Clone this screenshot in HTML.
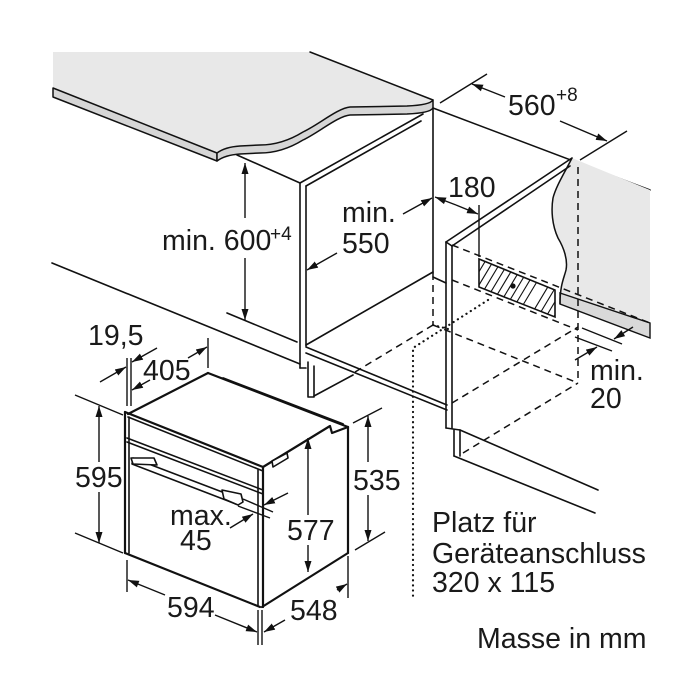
<!DOCTYPE html>
<html><head><meta charset="utf-8"><style>
html,body{margin:0;padding:0;background:#fff;}
svg{display:block;}
text{font-family:"Liberation Sans",Arial,sans-serif;fill:#1a1a1a;}
</style></head><body>
<svg width="700" height="700" viewBox="0 0 700 700" xmlns="http://www.w3.org/2000/svg">
<defs>
<marker id="ah" markerUnits="userSpaceOnUse" markerWidth="12" markerHeight="8" refX="11" refY="4" orient="auto">
<path d="M0,0.5 L11,4 L0,7.5 z" fill="#111"/>
</marker>
<clipPath id="hc"><polygon points="479,259 555,290 555,317 479,287"/></clipPath>
</defs>
<rect width="700" height="700" fill="#fff"/>

<!-- Countertop -->
<path d="M53,52 L310,52 L433,100 Q430,105 407,106 L350,107 C338,108 318,125 303,132 C290,140 275,145 260,145 L240,146 Q225,147 217,153 L53,88 Z" fill="#e8e8e8"/>
<path d="M53,88 L217,153 L217,161 L53,97 Z" fill="#d6d6d6" stroke="#111" stroke-width="1.5" stroke-linejoin="round"/>
<path d="M217,153 Q225,147 240,146 L260,145 C275,145 290,140 303,132 C318,125 338,108 350,107 L407,106 Q430,105 433,100 L433,108 Q430,113 407,114 L350,115 C338,116 318,133 303,140 C290,148 275,153 260,153 L240,154 Q225,155 217,161 Z" fill="#d6d6d6" stroke="#111" stroke-width="1.5" stroke-linejoin="round"/>
<g stroke="#111" stroke-width="1.5" fill="none" stroke-linecap="round">
<line x1="310" y1="52" x2="433" y2="100"/>
<line x1="433" y1="108" x2="650" y2="190"/>
</g>

<!-- Right back wall gray area -->
<path d="M572,158 L650,190 L650,323 L560,293 C560,285 564,278 566,270 C568,260 564,248 558,238 C552,225 551,210 553,198 C556,186 565,172 572,158 Z" fill="#e8e8e8"/>
<path d="M560,293 L650,323 L650,338 L560,304 Z" fill="#d9d9d9" stroke="#111" stroke-width="1.4"/>
<path d="M572,158 C565,172 556,186 553,198 C551,210 552,225 558,238 C564,248 568,260 566,270 C564,278 560,285 560,304" fill="none" stroke="#111" stroke-width="1.5"/>

<g stroke="#111" stroke-width="1.6" fill="none" stroke-linecap="round" stroke-linejoin="round">
<!-- floor lines left -->
<line x1="52" y1="263" x2="300" y2="364"/>
<line x1="227" y1="313" x2="297" y2="342"/>
<!-- Left cabinet -->
<line x1="237" y1="155" x2="300" y2="183"/>
<line x1="300" y1="183" x2="423" y2="114"/>
<line x1="306" y1="186" x2="421" y2="121"/>
<line x1="300" y1="183" x2="300" y2="368"/>
<line x1="306" y1="186" x2="306" y2="346"/>
<line x1="433" y1="108" x2="433" y2="273"/>
<line x1="306" y1="345" x2="433" y2="272"/>
<line x1="306" y1="347" x2="447" y2="405"/>
<line x1="306" y1="353" x2="447" y2="410"/>
<line x1="433" y1="277" x2="446" y2="283"/>
<polyline points="308,362 308,397 314,397 314,366"/>
<line x1="314" y1="396" x2="353" y2="375"/>
<line x1="300" y1="368" x2="306" y2="368"/>
<!-- Right cabinet -->
<line x1="446" y1="242" x2="572" y2="158"/>
<line x1="452" y1="246" x2="570" y2="166"/>
<line x1="446" y1="242" x2="452" y2="246"/>
<line x1="446" y1="242" x2="446" y2="428"/>
<line x1="452" y1="246" x2="452" y2="428"/>
<line x1="446" y1="428" x2="460" y2="430"/>
<line x1="454" y1="430" x2="454" y2="456"/>
<line x1="460" y1="430" x2="460" y2="456"/>
<line x1="460" y1="430" x2="598" y2="490"/>
<line x1="454" y1="456" x2="595" y2="513"/>
<!-- Oven -->
<line x1="125" y1="412" x2="263" y2="467" stroke-width="2.2"/>
<line x1="128" y1="417" x2="263" y2="471"/>
<line x1="127" y1="438" x2="263" y2="490"/>
<line x1="127" y1="442" x2="263" y2="494"/>
<line x1="125" y1="412" x2="125" y2="553" stroke-width="2.2"/>
<line x1="129" y1="417" x2="129" y2="553"/>
<line x1="125" y1="553" x2="260" y2="607" stroke-width="2.2"/>
<line x1="258" y1="470" x2="258" y2="605"/>
<line x1="263" y1="467" x2="263" y2="607" stroke-width="2.2"/>
<line x1="128" y1="414" x2="208" y2="373" stroke-width="2.2"/>
<line x1="208" y1="373" x2="348" y2="427" stroke-width="2.2"/>
<line x1="223" y1="378" x2="343" y2="424" stroke-width="1.8"/>
<polyline points="263,467 330,426 332,433 348,427" stroke-width="2.2"/>
<line x1="348" y1="427" x2="348" y2="553" stroke-width="2.2"/>
<line x1="262" y1="607" x2="348" y2="553" stroke-width="2.2"/>
<polygon points="272,461 287,453 288,458 273,467" fill="#fff"/>
<!-- handle -->
<polygon points="133,458 238,498 236,504 132,464" fill="#fff"/>
<polygon points="131,458 154,458 157,465 133,464" fill="#fff"/>
<polygon points="222,490 241,494 243,502 238,505 224,499" fill="#fff"/>
</g>

<!-- Dashed / dotted lines -->
<g stroke="#111" stroke-width="1.5" fill="none" stroke-dasharray="7,5">
<line x1="433" y1="273" x2="433" y2="325"/>
<line x1="433" y1="325" x2="355" y2="372"/>
<line x1="452" y1="245" x2="650" y2="323"/>
<line x1="452" y1="280" x2="578" y2="330"/>
<line x1="433" y1="325" x2="578" y2="383"/>
<line x1="452" y1="403" x2="578" y2="327"/>
<line x1="463" y1="453" x2="578" y2="383"/>
<line x1="578" y1="167" x2="578" y2="383"/>
</g>
<g stroke="#111" stroke-width="2.2" fill="none" stroke-dasharray="0.1,5" stroke-linecap="round">
<polyline points="488,300 413,348 413,598"/>
<line x1="433" y1="325" x2="452" y2="330"/>
</g>

<!-- Hatched box -->
<g clip-path="url(#hc)" stroke="#111" stroke-width="1.1">
<line x1="470" y1="300" x2="500" y2="250"/><line x1="478" y1="300" x2="508" y2="250"/>
<line x1="486" y1="300" x2="516" y2="250"/><line x1="494" y1="300" x2="524" y2="250"/>
<line x1="496" y1="310" x2="532" y2="250"/><line x1="504" y1="310" x2="540" y2="250"/>
<line x1="512" y1="310" x2="548" y2="250"/><line x1="520" y1="310" x2="556" y2="250"/>
<line x1="528" y1="320" x2="570" y2="250"/><line x1="536" y1="320" x2="578" y2="250"/>
<line x1="544" y1="320" x2="586" y2="250"/><line x1="552" y1="320" x2="594" y2="250"/>
<line x1="462" y1="300" x2="492" y2="250"/>
</g>
<polygon points="479,259 555,290 555,317 479,287" fill="none" stroke="#111" stroke-width="1.6"/>
<circle cx="513" cy="286" r="2.6" fill="#111"/>

<!-- Dimension lines -->
<g stroke="#111" stroke-width="1.4" fill="none">
<!-- 560 -->
<line x1="440" y1="103" x2="487" y2="74"/>
<line x1="580" y1="160" x2="627" y2="131"/>
<line x1="505" y1="97" x2="472" y2="84" marker-end="url(#ah)"/>
<line x1="560" y1="121" x2="607" y2="141" marker-end="url(#ah)"/>
<!-- 180 -->
<line x1="479" y1="205" x2="479" y2="257"/>
<line x1="456" y1="205" x2="435" y2="197" marker-end="url(#ah)"/>
<line x1="456" y1="205" x2="478" y2="214" marker-end="url(#ah)"/>
<!-- 550 -->
<line x1="403" y1="214" x2="432" y2="198" marker-end="url(#ah)"/>
<line x1="337" y1="253" x2="307" y2="270" marker-end="url(#ah)"/>
<!-- 600 -->
<line x1="245" y1="218" x2="245" y2="163" marker-end="url(#ah)"/>
<line x1="245" y1="258" x2="245" y2="320" marker-end="url(#ah)"/>
<!-- min 20 -->
<line x1="582" y1="328" x2="622" y2="344"/>
<line x1="575" y1="337" x2="612" y2="351"/>
<line x1="633" y1="327" x2="614" y2="339" marker-end="url(#ah)"/>
<line x1="575" y1="360" x2="597" y2="347" marker-end="url(#ah)"/>
<!-- 595 -->
<line x1="75" y1="395" x2="123" y2="415"/>
<line x1="75" y1="533" x2="123" y2="553"/>
<line x1="99" y1="462" x2="99" y2="406" marker-end="url(#ah)"/>
<line x1="99" y1="492" x2="99" y2="543" marker-end="url(#ah)"/>
<!-- 19,5 / 405 -->
<line x1="127" y1="358" x2="127" y2="406"/>
<line x1="131" y1="358" x2="131" y2="406"/>
<line x1="208" y1="338" x2="208" y2="368"/>
<line x1="100" y1="382" x2="126" y2="367" marker-end="url(#ah)"/>
<line x1="157" y1="348" x2="132" y2="362" marker-end="url(#ah)"/>
<line x1="150" y1="380" x2="132" y2="390" marker-end="url(#ah)"/>
<line x1="188" y1="358" x2="207" y2="347" marker-end="url(#ah)"/>
<!-- 577 -->
<line x1="308" y1="515" x2="308" y2="438" marker-end="url(#ah)"/>
<line x1="308" y1="545" x2="308" y2="572" marker-end="url(#ah)"/>
<!-- 535 -->
<line x1="353" y1="423" x2="382" y2="408"/>
<line x1="355" y1="550" x2="385" y2="532"/>
<line x1="368" y1="462" x2="368" y2="416" marker-end="url(#ah)"/>
<line x1="368" y1="495" x2="368" y2="541" marker-end="url(#ah)"/>
<!-- 594 / 548 -->
<line x1="127" y1="560" x2="127" y2="592"/>
<line x1="258" y1="610" x2="258" y2="645"/>
<line x1="262" y1="610" x2="262" y2="645"/>
<line x1="348" y1="556" x2="348" y2="598"/>
<line x1="165" y1="595" x2="128" y2="580" marker-end="url(#ah)"/>
<line x1="215" y1="615" x2="257" y2="632" marker-end="url(#ah)"/>
<line x1="285" y1="620" x2="264" y2="632" marker-end="url(#ah)"/>
<line x1="337" y1="590" x2="347" y2="584" marker-end="url(#ah)"/>
<!-- max 45 -->
<line x1="243" y1="499" x2="273" y2="512"/>
<line x1="238" y1="506" x2="270" y2="518"/>
<line x1="230" y1="528" x2="253" y2="514" marker-end="url(#ah)"/>
<line x1="288" y1="493" x2="264" y2="505" marker-end="url(#ah)"/>
</g>

<!-- Labels -->
<g font-size="28.5">
<text x="162" y="250">min. 600</text>
<text x="270" y="240" font-size="19">+4</text>
<text x="342" y="222">min.</text>
<text x="342" y="253">550</text>
<text x="448" y="197">180</text>
<text x="508" y="115">560</text>
<text x="556" y="101" font-size="19">+8</text>
<text x="590" y="380">min.</text>
<text x="590" y="408">20</text>
<text x="88" y="345">19,5</text>
<text x="143" y="380">405</text>
<text x="75" y="487">595</text>
<text x="170" y="525">max.</text>
<text x="180" y="550">45</text>
<text x="287" y="540">577</text>
<text x="353" y="490">535</text>
<text x="167" y="617">594</text>
<text x="290" y="620">548</text>
<text x="432" y="532">Platz für</text>
<text x="432" y="563">Geräteanschluss</text>
<text x="432" y="592">320 x 115</text>
<text x="477" y="648">Masse in mm</text>
</g>
</svg>
</body></html>
